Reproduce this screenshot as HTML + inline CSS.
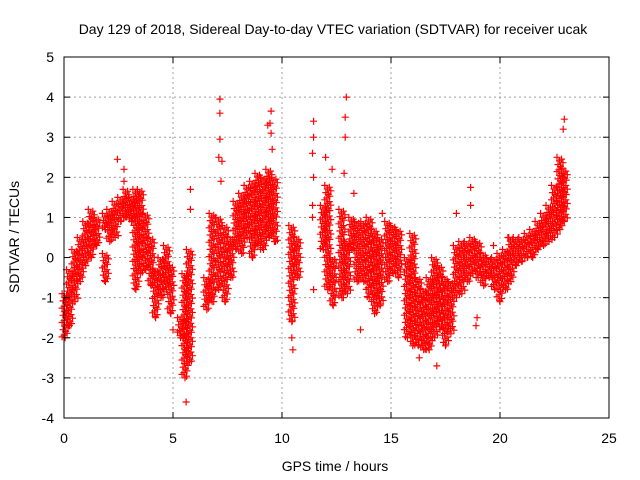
<!DOCTYPE html>
<html><head><meta charset="utf-8"><style>
html,body{margin:0;padding:0;background:#fff}
svg{display:block;font-family:"Liberation Sans",sans-serif}
</style></head><body>
<svg id="chart" width="640" height="480" viewBox="0 0 640 480">
<text x="333" y="34" font-size="14" text-anchor="middle" fill="#000">Day 129 of 2018, Sidereal Day-to-day VTEC variation (SDTVAR) for receiver ucak</text>
<text x="335" y="471" font-size="14" text-anchor="middle">GPS time / hours</text>
<text transform="translate(19,237) rotate(-90)" font-size="14" text-anchor="middle">SDTVAR / TECUs</text>
<g id="grid"></g>
<g id="marks"></g>
<rect x="64" y="57" width="545" height="361" fill="none" stroke="#000" stroke-width="1"/>
<g id="ticks"></g>
</svg>
<script>
const xTicks=[0,5,10,15,20,25];
const yTicks=[-4,-3,-2,-1,0,1,2,3,4,5];
const bandTimes=[0.05,0.25,0.5,0.75,1.0,1.25,1.5,1.9,1.9,2.1,2.35,2.6,2.85,3.1,3.3,3.5,3.75,4.0,4.2,4.45,4.7,4.9,5.35,5.55,5.75,6.55,6.8,7.1,7.4,7.65,7.9,8.15,8.4,8.65,8.9,9.15,9.4,9.65,10.45,10.7,11.9,12.1,12.35,12.75,13.0,13.2,13.45,13.75,14.0,14.25,14.5,14.85,15.1,15.35,15.75,16.0,16.25,16.5,16.75,17.0,17.25,17.5,17.75,18.0,18.25,18.5,18.75,19.0,19.25,19.5,19.75,20.0,20.25,20.5,20.75,21.0,21.25,21.5,21.75,22.0,22.25,22.5,22.75,22.95];
const bandLow=[-2.0,-1.7,-1.1,-0.6,-0.2,0.0,0.3,-0.6,0.7,0.4,0.5,0.9,1.0,0.9,-0.8,-0.4,-0.3,-0.7,-1.5,-1.0,-0.8,-1.4,-2.0,-3.0,-2.6,-1.3,-1.1,-0.8,-1.1,-0.5,0.2,0.1,0.5,0.0,0.3,0.2,0.5,0.4,-1.6,-0.5,0.2,-0.8,-1.2,-1.0,-0.9,0.2,-0.6,-0.6,-1.0,-1.4,-1.2,-0.6,-0.4,-0.5,-2.0,-2.2,-2.2,-2.3,-2.3,-2.0,-1.8,-2.2,-1.9,-1.0,-0.9,-0.6,-0.4,-0.5,-0.7,-0.5,-0.8,-1.1,-0.8,-0.6,-0.2,-0.1,0.0,0.0,0.2,0.3,0.4,0.5,0.7,0.9];
const bandHigh=[-0.9,-0.3,0.2,0.5,0.9,1.2,1.0,0.1,1.1,1.2,1.4,1.5,1.7,1.5,1.7,1.7,1.1,0.5,-0.3,0.0,0.3,-0.2,-1.5,-0.4,0.2,-0.5,1.1,1.0,0.8,0.5,1.4,1.6,1.8,1.9,2.1,2.0,2.2,2.0,0.8,0.5,1.3,1.8,0.0,1.2,0.4,1.0,0.9,0.9,1.0,0.7,0.5,0.9,0.8,0.7,0.0,0.6,-0.5,-0.8,-0.5,0.0,-0.2,-0.5,-0.6,0.3,0.4,0.4,0.5,0.4,0.1,0.0,0.0,0.1,0.2,0.5,0.5,0.5,0.6,0.7,0.9,1.1,1.3,1.8,2.5,2.2];
const outTimes=[2.45,2.75,2.75,5.8,5.8,5.6,5.0,7.15,7.15,7.15,7.1,7.25,7.2,9.5,9.45,9.35,9.5,9.55,9.7,10.45,10.5,11.45,11.45,11.4,11.45,11.4,11.4,11.45,12.0,12.3,12.95,12.9,12.9,12.85,13.3,13.6,14.6,17.1,18.65,18.65,18.95,18.9,16.3,22.95,22.9,18.0,19.7,20.4];
const outValues=[2.45,2.2,1.9,1.7,1.2,-3.6,-1.8,3.95,3.6,2.95,2.5,2.4,1.9,3.65,3.35,3.3,3.1,2.7,0.4,-2.0,-2.3,3.4,3.0,2.6,2.0,1.3,1.0,-0.8,2.5,2.2,4.0,3.5,3.0,2.1,1.6,-1.8,1.1,-2.7,1.75,1.3,-1.5,-1.7,-2.5,3.45,3.2,1.1,0.3,0.5];

const X0=64,X1=609,Y0=418,Y1=57;
const xs=t=>X0+(t-0)/(25-0)*(X1-X0);
const ys=v=>Y0-(v-(-4))/(5-(-4))*(Y0-Y1);
const NS="http://www.w3.org/2000/svg";
const grid=document.getElementById('grid'),ticks=document.getElementById('ticks'),marks=document.getElementById('marks');
function mk(tag,attrs,parent){const e=document.createElementNS(NS,tag);for(const k in attrs)e.setAttribute(k,attrs[k]);parent.appendChild(e);return e;}
xTicks.forEach(t=>{
  const x=xs(t);
  if(t>0&&t<25){const g=mk('line',{x1:x,y1:Y1,x2:x,y2:Y0,stroke:'#a0a0a0','stroke-dasharray':'2,3'},grid);
  
  }
  const l=mk('line',{x1:x,y1:Y0,x2:x,y2:Y0-6,stroke:'#000'},ticks);
  
  
  const l2=mk('line',{x1:x,y1:Y1,x2:x,y2:Y1+6,stroke:'#000'},ticks);
  
  
  const tx=mk('text',{x:x,y:Y0+25,'font-size':14,'text-anchor':'middle'},ticks);tx.textContent=t;
  
  
});
yTicks.forEach(v=>{
  const y=ys(v);
  if(v>-4&&v<5){const g=mk('line',{x1:X0,y1:y,x2:X1,y2:y,stroke:'#a0a0a0','stroke-dasharray':'2,3'},grid);
  
  }
  const l=mk('line',{x1:X0,y1:y,x2:X0+6,y2:y,stroke:'#000'},ticks);
  
  
  const l2=mk('line',{x1:X1,y1:y,x2:X1-6,y2:y,stroke:'#000'},ticks);
  
  
  const tx=mk('text',{x:X0-10,y:y+5,'font-size':14,'text-anchor':'end'},ticks);tx.textContent=v;
  
  
});
function plusD(x,y){return `M${(x-3.5).toFixed(1)},${y.toFixed(1)}H${(x+3.5).toFixed(1)}M${x.toFixed(1)},${(y-3.5).toFixed(1)}V${(y+3.5).toFixed(1)}`;}
function plus(t,v){
  const p=mk('path',{d:plusD(xs(t),ys(v)),stroke:'#f00','stroke-width':1.2,fill:'none'},marks);
  
  
}
bandTimes.forEach((t,i)=>{
  const x=xs(t),yl=ys(bandLow[i]),yh=ys(bandHigh[i]);
  let d='';let k=0;
  for(let y=yh;y<=yl+0.01;y+=1.8){
    const off=[-3,1.5,-0.5,3,-2,0.5,2,-1][k%8];
    d+=plusD(x+off,y);k++;
  }
  d+=plusD(x,yl);
  const p=mk('path',{d:d,stroke:'#f00','stroke-width':1.2,fill:'none'},marks);
  
  
});
outTimes.forEach((t,i)=>plus(t,outValues[i]));
</script>
</body></html>
